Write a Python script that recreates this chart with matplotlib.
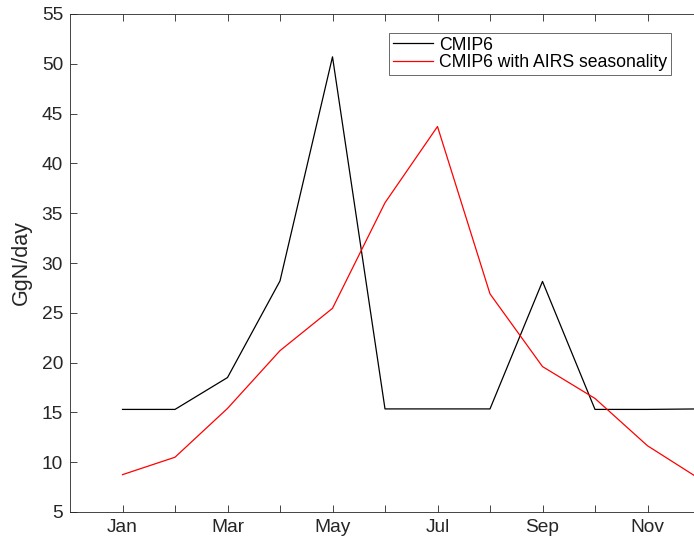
import matplotlib
matplotlib.use("Agg")
import matplotlib.pyplot as plt

months = list(range(1, 13))
month_names = ["Jan", "Feb", "Mar", "Apr", "May", "Jun", "Jul", "Aug", "Sep", "Oct", "Nov", "Dec"]
cmip6 = [15.3, 15.3, 18.5, 28.2, 50.7, 15.35, 15.35, 15.35, 28.15, 15.3, 15.3, 15.35]
cmip6_airs = [8.75, 10.5, 15.4, 21.2, 25.45, 36.05, 43.7, 26.9, 19.6, 16.4, 11.65, 8.3]

plt.rcParams['font.family'] = ['Liberation Sans', 'DejaVu Sans']

W, H = 694, 542
fig = plt.figure(figsize=(W / 100, H / 100), dpi=100)
left, right, top, bottom = 70, 752.5, 14, 512
ax = fig.add_axes([left / W, (H - bottom) / H, (right - left) / W, (bottom - top) / H])

ax.plot(months, cmip6, color='black', lw=0.9, label='CMIP6')
ax.plot(months, cmip6_airs, color='red', lw=0.9, label='CMIP6 with AIRS seasonality')

ax.set_xlim(0, 13)
ax.set_ylim(5, 55)
ax.set_xticks(months)
ax.set_xticklabels([m if i % 2 == 0 else "" for i, m in enumerate(month_names)])
ax.set_yticks(range(5, 56, 5))
ax.tick_params(direction='in', length=5, width=0.6, colors='#262626', labelsize=13.8,
               top=True, right=True, pad=5)
for s in ax.spines.values():
    s.set_color('#262626')
    s.set_linewidth(0.6)
ax.set_ylabel('GgN/day', fontsize=15.5, color='#262626')
ax.yaxis.set_label_coords(-0.0557, 0.5)

leg = ax.legend(loc='upper left', bbox_to_anchor=(389 / W, 1 - 33 / H),
                bbox_transform=fig.transFigure, fontsize=12.7, frameon=True,
                fancybox=False, edgecolor='#262626', handlelength=2.3,
                borderpad=0.2, labelspacing=0.05, handletextpad=0.35, borderaxespad=0)
leg.get_frame().set_linewidth(0.6)

fig.savefig('out.png', dpi=100)
